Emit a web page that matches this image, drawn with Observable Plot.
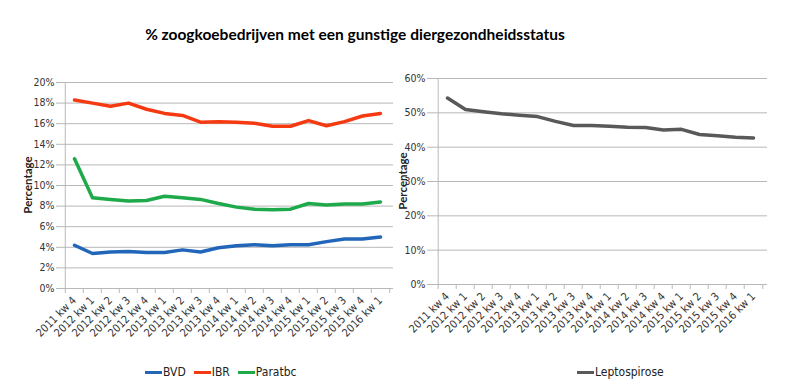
<!DOCTYPE html>
<html>
<head>
<meta charset="utf-8">
<script src="https://cdn.jsdelivr.net/npm/d3@7"></script>
<script src="https://cdn.jsdelivr.net/npm/@observablehq/plot@0.6"></script>
<style>
  body { margin: 0; background: #fff; }
  #wrap { position: relative; width: 791px; height: 392px; background: #fff; overflow: hidden;
          font-family: "Liberation Sans Narrow", "DejaVu Sans Condensed", "Lato", sans-serif; }
  #title { position: absolute; left: 145px; top: 25px; width: 420px; text-align: center; white-space: nowrap;
           font-family: "Lato", "Open Sans", sans-serif; font-weight: bold; font-size: 15.5px; color: #000; }
  .panel { position: absolute; top: 0; }
  .ylab { position: absolute; width: 120px; margin-left: -60px; text-align: center; transform: rotate(-90deg);
          font-family: "Lato", "DejaVu Sans", sans-serif; font-weight: bold; font-size: 11.5px; color: #222; line-height: 14px; }
  .legend { position: absolute; top: 365px; display: flex; align-items: center; font-size: 12px; color: #222; white-space: nowrap; }
  .legend .sw { display: inline-block; width: 17px; height: 0; border-top: 3px solid; margin-right: 1px; }
  .legend .item { display: flex; align-items: center; margin-right: 8px; }
</style>
</head>
<body>
<div id="wrap">
  <div id="title">% zoogkoebedrijven met een gunstige diergezondheidsstatus</div>
  <div id="left" class="panel" style="left:0px"></div>
  <div id="right" class="panel" style="left:395px"></div>
  <div class="ylab" style="left:28px; top:178px">Percentage</div>
  <div class="ylab" style="left:403px; top:174px">Percentage</div>
  <div id="legendL" class="legend" style="left:145px"></div>
  <div id="legendR" class="legend" style="left:577px"></div>
</div>
<script>
const periods = ["2011 kw 4","2012 kw 1","2012 kw 2","2012 kw 3","2012 kw 4","2013 kw 1","2013 kw 2","2013 kw 3","2013 kw 4","2014 kw 1","2014 kw 2","2014 kw 3","2014 kw 4","2015 kw 1","2015 kw 2","2015 kw 3","2015 kw 4","2016 kw 1"];
const bvd     = [4.2, 3.4, 3.55, 3.6, 3.5, 3.5, 3.75, 3.55, 3.95, 4.15, 4.25, 4.15, 4.25, 4.25, 4.55, 4.8, 4.8, 5.0];
const ibr     = [18.3, 18.0, 17.7, 18.0, 17.4, 17.0, 16.8, 16.15, 16.2, 16.15, 16.05, 15.75, 15.75, 16.3, 15.8, 16.2, 16.75, 17.0];
const paratbc = [12.6, 8.8, 8.65, 8.5, 8.55, 8.95, 8.8, 8.65, 8.25, 7.9, 7.7, 7.65, 7.7, 8.25, 8.1, 8.2, 8.2, 8.4];
const lepto   = [54.3, 51.0, 50.3, 49.7, 49.3, 48.9, 47.5, 46.3, 46.3, 46.1, 45.8, 45.7, 45.0, 45.2, 43.7, 43.3, 42.9, 42.7];
const seriesLeft  = [["BVD", bvd, "#2166b8"], ["IBR", ibr, "#f53a12"], ["Paratbc", paratbc, "#1eaa4a"]];
const seriesRight = [["Leptospirose", lepto, "#595959"]];
const yTicksLeft  = [0, 0.02, 0.04, 0.06, 0.08, 0.10, 0.12, 0.14, 0.16, 0.18, 0.20];
const yTicksRight = [0, 0.1, 0.2, 0.3, 0.4, 0.5, 0.6];

const tickFont = '"Liberation Sans Narrow", "DejaVu Sans Condensed", "Lato", sans-serif';

function panel(series, yTicks, opts) {
  const rows = [];
  for (const [name, vals] of series)
    vals.forEach((v, i) => rows.push({period: periods[i], value: v / 100, name}));
  const names = series.map(s => s[0]);
  const colors = series.map(s => s[2]);
  const bw = (opts.width - opts.marginLeft - opts.marginRight) / periods.length;
  return Plot.plot({
    width: opts.width,
    height: opts.height,
    marginLeft: opts.marginLeft,
    marginRight: opts.marginRight,
    marginTop: opts.marginTop,
    marginBottom: opts.marginBottom,
    style: {fontFamily: tickFont, fontSize: "11px", color: "#333", background: "transparent"},
    x: {type: "band", domain: periods, padding: 0, axis: null, label: null},
    y: {domain: [yTicks[0], yTicks[yTicks.length - 1]], axis: null, label: null},
    color: {domain: names, range: colors},
    marks: [
      Plot.gridY(yTicks, {stroke: "#b8b8b8", strokeOpacity: 1, insetLeft: -5}),
      Plot.ruleX([periods[0]], {stroke: "#b8b8b8", dx: -bw / 2}),
      Plot.axisY(yTicks, {tickSize: 0, tickPadding: 7, tickFormat: d3.format(".0%"), fill: "#333", fontSize: 10.5, label: null}),
      Plot.ruleX(periods, {y1: 0, y2: 0, insetBottom: -5, stroke: "#b8b8b8", dx: -bw / 2}),
      Plot.ruleX([periods[periods.length - 1]], {y1: 0, y2: 0, insetBottom: -5, stroke: "#b8b8b8", dx: bw / 2}),
      Plot.axisX(periods, {tickSize: 0, tickPadding: 10, tickRotate: -45, fill: "#333", fontSize: 11, label: null}),
      Plot.line(rows, {x: "period", y: "value", z: "name", stroke: "name", strokeWidth: 3.5, curve: "linear"})
    ]
  });
}

document.getElementById("left").append(panel(seriesLeft, yTicksLeft, {
  width: 400, height: 360, marginLeft: 61, marginRight: 7, marginTop: 82, marginBottom: 72
}));
document.getElementById("right").append(panel(seriesRight, yTicksRight, {
  width: 396, height: 360, marginLeft: 37, marginRight: 24, marginTop: 78, marginBottom: 76
}));

function legend(id, series) {
  const el = document.getElementById(id);
  for (const [name, , color] of series) {
    const item = document.createElement("span");
    item.className = "item";
    const sw = document.createElement("span");
    sw.className = "sw";
    sw.style.borderTopColor = color;
    item.append(sw, document.createTextNode(name));
    el.append(item);
  }
}
legend("legendL", seriesLeft);
legend("legendR", seriesRight);
</script>
</body>
</html>
